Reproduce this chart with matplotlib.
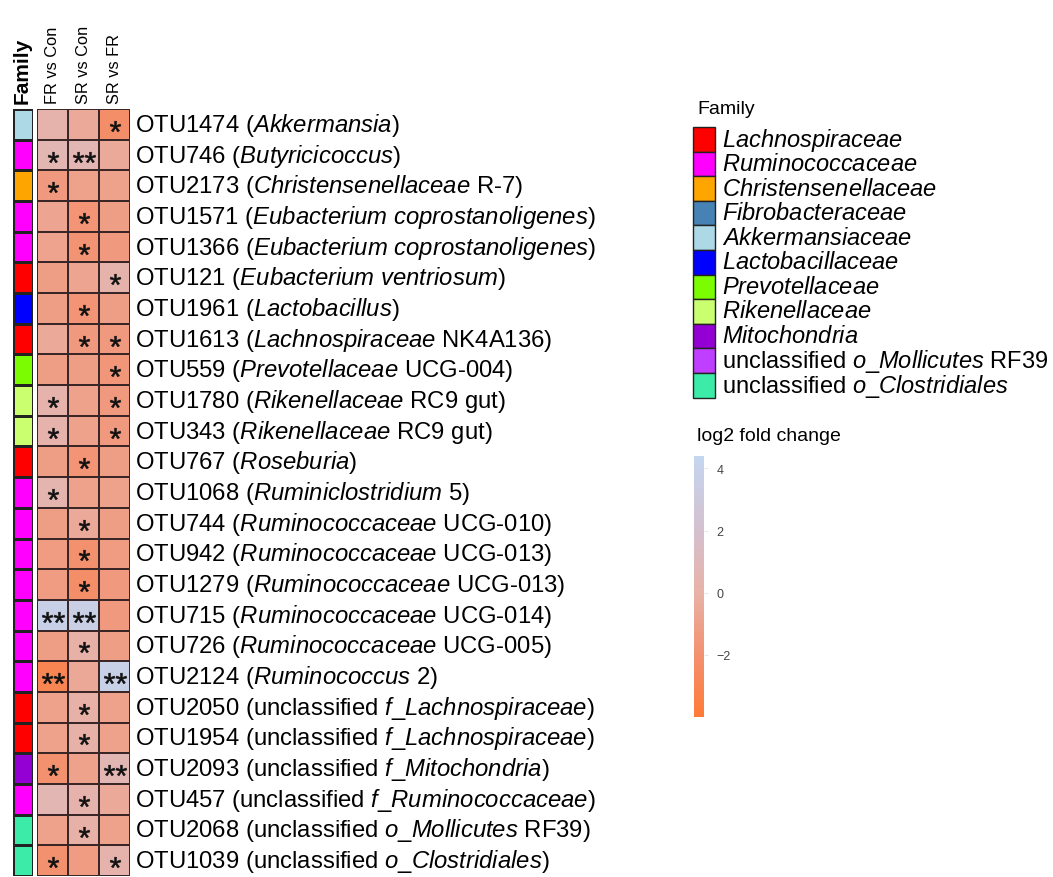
import numpy as np
import matplotlib
matplotlib.use("Agg")
import matplotlib.pyplot as plt
from matplotlib.colors import LinearSegmentedColormap, ListedColormap, Normalize
from matplotlib.patches import Rectangle
from matplotlib.textpath import TextPath
from matplotlib.font_manager import FontProperties
from matplotlib.path import Path
import matplotlib.colorbar as mcolorbar

plt.rcParams['font.family'] = ['Liberation Sans', 'DejaVu Sans']
plt.rcParams['mathtext.fontset'] = 'custom'
plt.rcParams['mathtext.rm'] = 'Liberation Sans'
plt.rcParams['mathtext.it'] = 'Liberation Sans:italic'
plt.rcParams['mathtext.bf'] = 'Liberation Sans:bold'

# ---- data ----
comparisons = ['FR vs Con', 'SR vs Con', 'SR vs FR']

otu_ids = ['OTU1474', 'OTU746', 'OTU2173', 'OTU1571', 'OTU1366', 'OTU121', 'OTU1961',
           'OTU1613', 'OTU559', 'OTU1780', 'OTU343', 'OTU767', 'OTU1068', 'OTU744',
           'OTU942', 'OTU1279', 'OTU715', 'OTU726', 'OTU2124', 'OTU2050', 'OTU1954',
           'OTU2093', 'OTU457', 'OTU2068', 'OTU1039']
# (plain prefix, italic part, plain suffix)
taxa = [('', 'Akkermansia', ''), ('', 'Butyricicoccus', ''),
        ('', 'Christensenellaceae', ' R-7'), ('', 'Eubacterium coprostanoligenes', ''),
        ('', 'Eubacterium coprostanoligenes', ''), ('', 'Eubacterium ventriosum', ''),
        ('', 'Lactobacillus', ''), ('', 'Lachnospiraceae', ' NK4A136'),
        ('', 'Prevotellaceae', ' UCG-004'), ('', 'Rikenellaceae', ' RC9 gut'),
        ('', 'Rikenellaceae', ' RC9 gut'), ('', 'Roseburia', ''),
        ('', 'Ruminiclostridium', ' 5'), ('', 'Ruminococcaceae', ' UCG-010'),
        ('', 'Ruminococcaceae', ' UCG-013'), ('', 'Ruminococcaceae', ' UCG-013'),
        ('', 'Ruminococcaceae', ' UCG-014'), ('', 'Ruminococcaceae', ' UCG-005'),
        ('', 'Ruminococcus', ' 2'), ('unclassified ', 'f_Lachnospiraceae', ''),
        ('unclassified ', 'f_Lachnospiraceae', ''), ('unclassified ', 'f_Mitochondria', ''),
        ('unclassified ', 'f_Ruminococcaceae', ''), ('unclassified ', 'o_Mollicutes', ' RF39'),
        ('unclassified ', 'o_Clostridiales', '')]

family_names = [('', 'Lachnospiraceae', ''), ('', 'Ruminococcaceae', ''),
                ('', 'Christensenellaceae', ''), ('', 'Fibrobacteraceae', ''),
                ('', 'Akkermansiaceae', ''), ('', 'Lactobacillaceae', ''),
                ('', 'Prevotellaceae', ''), ('', 'Rikenellaceae', ''),
                ('', 'Mitochondria', ''), ('unclassified ', 'o_Mollicutes', ' RF39'),
                ('unclassified ', 'o_Clostridiales', '')]
family_colors = ['#FF0000', '#FF00FF', '#FFA500', '#4682B4', '#ADD8E6', '#0000FF',
                 '#7CFC00', '#CAFF70', '#9400D3', '#BF3EFF', '#3CEBA8']

# family index of each row (as coloured in the figure)
row_family = [4, 1, 2, 1, 1, 0, 5, 0, 6, 7, 7, 0, 1, 1, 1, 1, 1, 1, 1, 0, 0, 8, 1, 10, 10]

fr_con = [0.2, 0.6, -1.5, -0.8, -0.9, -1.2, -1.2, -0.5, -1.2, 0.2, 0.2, -1.2, 0.4,
          -1.2, -1.3, -1.3, 3.8, -1.2, -3.0, -1.0, -1.0, -2.0, 0.6, -1.0, -2.0]
sr_con = [-0.5, 0.6, -1.0, -1.8, -1.9, -0.8, -1.8, -1.5, -1.2, -1.0, -1.0, -1.8, -1.0,
          -0.5, -2.0, -2.2, 3.6, 0.0, -0.6, 0.0, 0.0, -1.0, 0.2, 0.0, -1.3]
sr_fr = [-2.2, -0.5, -1.0, -1.2, -1.5, 0.2, -1.2, -1.5, -1.7, -1.5, -1.5, -1.2, -1.0,
         -1.2, -1.3, -1.5, -1.5, -1.2, 3.8, -1.0, -1.0, 0.6, -0.5, -1.0, 0.2]

stars_fr_con = ['', '*', '*', '', '', '', '', '', '', '*', '*', '', '*', '', '', '',
                '**', '', '**', '', '', '*', '', '', '*']
stars_sr_con = ['', '**', '', '*', '*', '', '*', '*', '', '', '', '*', '', '*', '*', '*',
                '**', '*', '', '*', '*', '', '*', '*', '']
stars_sr_fr = ['*', '', '', '', '', '*', '', '*', '*', '*', '*', '', '', '', '', '',
               '', '', '**', '', '', '**', '', '', '*']

cbar_ticks = [-2, 0, 2, 4]

# ---- figure ----
W, H = 1053, 878
fig = plt.figure(figsize=(W / 100, H / 100), dpi=100)


def px_axes(x0, y0, x1, y1):
    return fig.add_axes([x0 / W, 1 - y1 / H, (x1 - x0) / W, (y1 - y0) / H])


def mixed(prefix, ital, suffix):
    parts = []
    if prefix:
        parts.append(prefix)
    if ital:
        parts.append('$\\mathit{' + ital.replace('_', '\\_').replace(' ', '\\ ') + '}$')
    if suffix:
        parts.append(suffix)
    return ''.join(parts)


# asterisk markers built from the font outline, centred on their extents
star_font = FontProperties(family='Liberation Sans')


def star_marker(s):
    tp = TextPath((0, 0), s, size=10, prop=star_font)
    ext = tp.get_extents()
    verts = tp.vertices - [(ext.x0 + ext.x1) / 2, (ext.y0 + ext.y1) / 2]
    verts[tp.codes == Path.CLOSEPOLY] = 0  # dummy vertices must not affect scaling
    return Path(verts, tp.codes), max(ext.width, ext.height)


_, single_w = star_marker('*')

cmap = LinearSegmentedColormap.from_list(
    'lfc', [(0.0, '#FF7A36'), (0.24, '#F39170'), (0.48, '#E8B2A8'),
            (0.72, '#D4C0CF'), (1.0, '#C4D6F0')])
norm = Normalize(vmin=-4, vmax=4.4)

n = len(otu_ids)
top, bottom = 110, 877

# family strip
axf = px_axes(13, top, 33, bottom)
fam_cmap = ListedColormap(family_colors)
axf.pcolormesh(np.array(row_family)[:, None], cmap=fam_cmap, vmin=-0.5,
               vmax=len(family_colors) - 0.5, edgecolors='#222222', linewidth=1.0)
axf.set_ylim(n, 0)
axf.set_axis_off()

# heatmap
axh = px_axes(37, top, 130, bottom)
vals = np.column_stack([fr_con, sr_con, sr_fr])
axh.pcolormesh(vals, cmap=cmap, norm=norm, edgecolors='#3a2626', linewidth=1.2)
axh.set_ylim(n, 0)
axh.set_xlim(0, 3)
axh.set_axis_off()
for j, col in enumerate([stars_fr_con, stars_sr_con, stars_sr_fr]):
    for i, s in enumerate(col):
        if s:
            mk, w = star_marker(s)
            axh.plot(j + 0.5, i + 0.55, marker=mk, ms=7.8 * w / single_w,
                     color='#111111', mec='#111111', mew=0.4, linestyle='none',
                     clip_on=False)

# row labels
for i in range(n):
    y = top + (i + 0.5) * (bottom - top) / n
    fig.text(135 / W, 1 - y / H, otu_ids[i] + ' (' + mixed(*taxa[i]) + ')',
             ha='left', va='center', fontsize=17.2)

# column headers
fig.text(22 / W, 1 - 104 / H, 'Family', rotation=90, ha='center', va='bottom',
         fontsize=15, fontweight='bold')
for j, c in enumerate(comparisons):
    fig.text((52.5 + 31 * j) / W, 1 - 104 / H, c, rotation=90, ha='center',
             va='bottom', fontsize=11.8)

# family legend
fig.text(697 / W, 1 - 109 / H, 'Family', ha='left', va='center', fontsize=14)
leg_top, leg_h = 128, 24.6
for k, fc in enumerate(family_colors):
    y0 = leg_top + k * leg_h
    fig.patches.append(Rectangle((693 / W, 1 - (y0 + leg_h) / H), 22 / W, leg_h / H,
                                 facecolor=fc, edgecolor='#222222', linewidth=1.0,
                                 transform=fig.transFigure, figure=fig))
    fig.text(722 / W, 1 - (y0 + leg_h / 2) / H, mixed(*family_names[k]),
             ha='left', va='center', fontsize=17)

# colorbar
fig.text(697 / W, 1 - 437 / H, 'log2 fold change', ha='left', va='center', fontsize=14)
axc = px_axes(694, 457, 704, 718)
cb = mcolorbar.ColorbarBase(axc, cmap=cmap, norm=norm, orientation='vertical')
cb.outline.set_visible(False)
cb.set_ticks(cbar_ticks)
cb.set_ticklabels([str(t) if t >= 0 else '\u22122' for t in cbar_ticks])
axc.tick_params(length=3, width=0.8, colors='#e8e8e8', labelcolor='#444444',
                labelsize=9, pad=6)

fig.savefig('out.png', dpi=100)
